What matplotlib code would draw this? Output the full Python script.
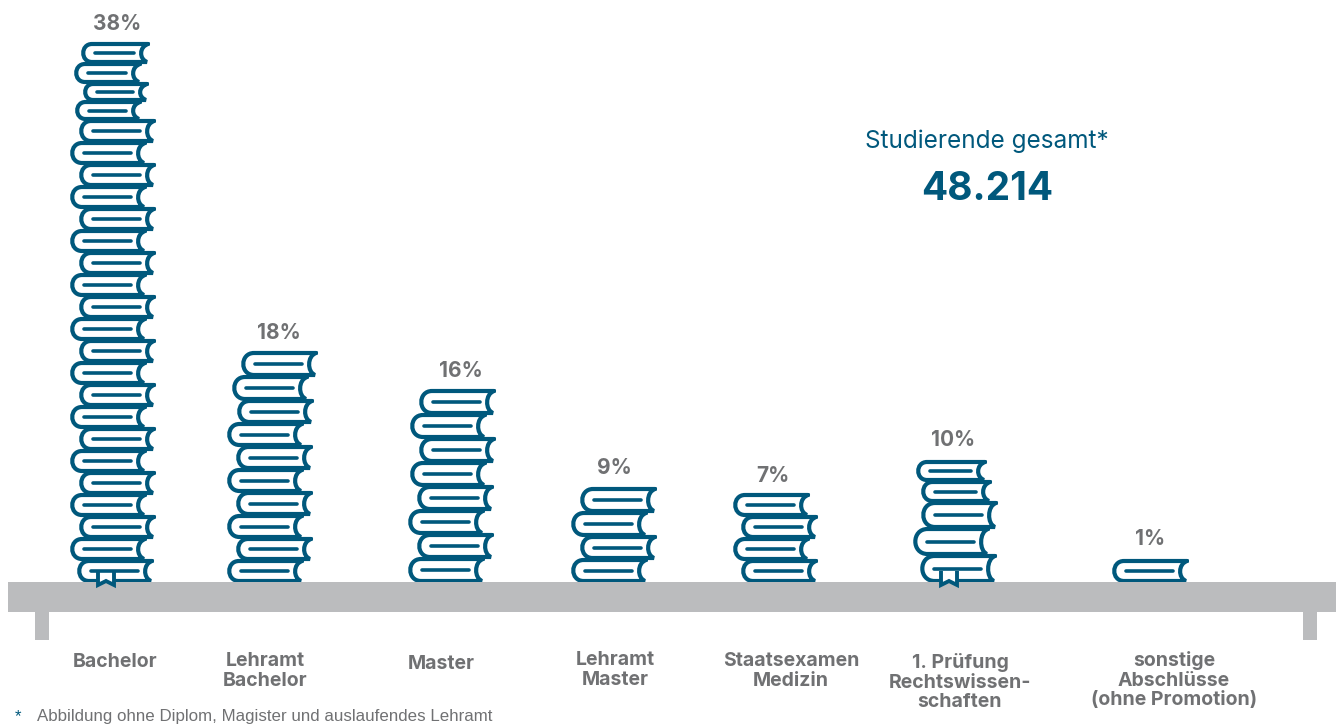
import matplotlib
matplotlib.use('Agg')
from matplotlib import pyplot as plt
from matplotlib.path import Path
from matplotlib.patches import PathPatch, Rectangle

# data
categories = ['Bachelor', 'Lehramt\nBachelor', 'Master', 'Lehramt\nMaster',
              'Staatsexamen\nMedizin', '1. Prüfung\nRechtswissen-\nschaften',
              'sonstige\nAbschlüsse\n(ohne Promotion)']
percents = [38, 18, 16, 9, 7, 10, 1]
book_counts = [25, 10, 8, 4, 4, 5, 1]
total_students = '48.214'

# layout, pixel coordinates of the picture
BLUE = '#00587C'
GREY = '#707173'
SHELF = '#BBBCBE'
FONT = ['Inter', 'DejaVu Sans']
shelf_y = 582

# left edge of each book, top of the stack first
book_lefts = [
    [82, 75, 84, 76] + [80, 71] * 10 + [78],
    [242, 233, 238, 228, 237, 228, 237, 228, 237, 228],
    [420, 411, 420, 411, 418, 409, 418, 409],
    [581, 572, 581, 572],
    [734, 742, 734, 742],
    [917, 922, 922, 914, 921],
    [1113],
]
book_widths = [
    [66, 65, 63, 64] + [74] * 21,
    [74] * 10,
    [74] * 8,
    [74] * 4,
    [74] * 4,
    [68, 68, 74, 74, 74],
    [74],
]
book_heights = [
    [20, 20, 18, 19] + [22] * 21,
    [24, 24, 23, 23, 23, 23, 23, 23, 22, 22],
    [24] * 8,
    [24, 24, 23, 23],
    [22] * 4,
    [20, 21, 26, 27, 27],
    [22],
]
bookmarks = [0, 5]  # stacks whose lowest book has a bookmark
pct_label_xy = [(117, 24), (279, 333), (461, 371), (614, 468), (773, 476), (953, 440), (1150, 539)]
cat_label_xy = [(115, 662), (265, 671), (441, 664), (615, 670), (791, 671), (960, 682), (1174, 680)]


def draw_book(ax, x0, y0, w, h):
    lw = 3.0
    top, bot = y0 + 1, y0 + h - 1
    mid = (top + bot) / 2
    r = (bot - top) / 2
    x1 = x0 + w
    verts = [(x1, top), (x0 + r + 1, top),
             (x0 + 1 - 0.3 * r, top), (x0 + 1 - 0.3 * r, bot), (x0 + r + 1, bot),
             (x1 - 1, bot),
             (x1 - 9, bot - 3), (x1 - 9, top + 3), (x1, top)]
    codes = [Path.MOVETO, Path.LINETO,
             Path.CURVE4, Path.CURVE4, Path.CURVE4,
             Path.LINETO,
             Path.CURVE4, Path.CURVE4, Path.CURVE4]
    ax.add_patch(PathPatch(Path(verts, codes), fc='white', ec=BLUE, lw=lw,
                           joinstyle='miter', capstyle='round', zorder=2))
    ax.plot([x0 + 13, x1 - 14], [mid, mid], color=BLUE, lw=2.6,
            solid_capstyle='round', zorder=4)


def draw_bookmark(ax, x0):
    verts = [(x0, shelf_y - 11), (x0, shelf_y + 3), (x0 + 8, shelf_y - 1), (x0 + 16, shelf_y + 3), (x0 + 16, shelf_y - 11)]
    ax.add_patch(PathPatch(Path(verts), fc='white', ec=BLUE, lw=2.8, joinstyle='miter', zorder=3.5))


fig = plt.figure(figsize=(13.36, 7.24), dpi=100)
ax = fig.add_axes([0, 0, 1, 1])
ax.set_xlim(0, 1336)
ax.set_ylim(724, 0)
ax.axis('off')

# regal
ax.add_patch(Rectangle((8, shelf_y), 1328, 30, fc=SHELF, ec='none', zorder=3))
ax.add_patch(Rectangle((35, shelf_y + 30), 14, 28, fc=SHELF, ec='none', zorder=3))
ax.add_patch(Rectangle((1303, shelf_y + 30), 14, 28, fc=SHELF, ec='none', zorder=3))

for i, count in enumerate(book_counts):
    y = shelf_y - sum(book_heights[i][:count])
    for j in range(count):
        draw_book(ax, book_lefts[i][j], y, book_widths[i][j], book_heights[i][j])
        y += book_heights[i][j]
    if i in bookmarks:
        draw_bookmark(ax, book_lefts[i][-1] + 20)
    ax.text(pct_label_xy[i][0], pct_label_xy[i][1], '%d%%' % percents[i], ha='center', va='center',
            fontsize=15, fontweight='bold', color=GREY, family=FONT)
    ax.text(cat_label_xy[i][0], cat_label_xy[i][1], categories[i], ha='center', va='center',
            fontsize=14, fontweight='bold', color=GREY, family=FONT, linespacing=1.13)

ax.text(987, 141, 'Studierende gesamt*', ha='center', va='center', fontsize=17.5,
        fontweight='normal', color=BLUE, family=FONT)
ax.text(987, 190, total_students, ha='center', va='center', fontsize=28,
        fontweight='bold', color=BLUE, family=FONT)

ax.text(15, 717, '*', ha='left', va='center', fontsize=12.2, color=BLUE, family='Liberation Sans')
ax.text(37, 717, 'Abbildung ohne Diplom, Magister und auslaufendes Lehramt', ha='left', va='center',
        fontsize=12.2, color=GREY, family='Liberation Sans')

plt.savefig('out.png', dpi=100)
